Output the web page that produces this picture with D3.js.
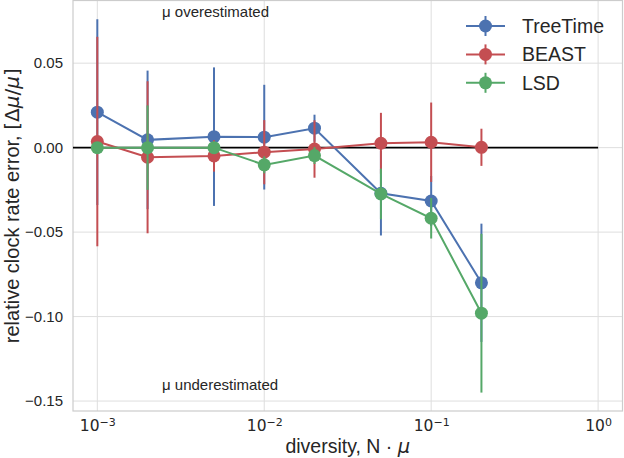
<!DOCTYPE html>
<html>
<head>
<meta charset="utf-8">
<script src="https://cdn.jsdelivr.net/npm/d3@7"></script>
<style>
  body { margin: 0; background: #fff; }
  text { font-family: "Liberation Sans", Arial, sans-serif; fill: #262626; }
</style>
</head>
<body>
<svg id="chart"></svg>
<script>
// diversity values (x axis, log)
var diversity = [0.001, 0.002, 0.005, 0.01, 0.02, 0.05, 0.1, 0.2];

// mean relative error and error bar half-length, one pair per method
var treetimeMean = [0.021, 0.0046, 0.0065, 0.0062, 0.0115, -0.027, -0.0316, -0.080];
var treetimeErr  = [0.055, 0.041, 0.041, 0.031, 0.008, 0.025, 0.0148, 0.035];
var beastMean = [0.0036, -0.0057, -0.0049, -0.0027, -0.0008, 0.0026, 0.0032, 0.0002];
var beastErr  = [0.062, 0.045, 0.0093, 0.019, 0.017, 0.018, 0.0235, 0.011];
var lsdMean = [0.0, 0.0, 0.0, -0.0102, -0.0047, -0.0274, -0.0418, -0.098];
var lsdErr  = [0.0, 0.025, 0.0, 0.005, 0.005, 0.015, 0.012, 0.047];

var methods = ["TreeTime", "BEAST", "LSD"];
var colors = ["#4C72B0", "#C44E52", "#55A868"];

var xTicks = [1e-3, 1e-2, 1e-1, 1];
var yTicks = [0.05, 0.0, -0.05, -0.10, -0.15];

var screen = {width: 624, height: 458};
var plot = {left: 73, right: 622.5, top: 0.5, bottom: 411};

var svg = d3.select("#chart")
    .attr("width", screen.width)
    .attr("height", screen.height);

var xScale = d3.scaleLog()
    .domain([7.15e-4, 1.40])
    .range([plot.left, plot.right]);

var yScale = d3.scaleLinear()
    .domain([-0.1559, 0.0871])
    .range([plot.bottom, plot.top]);

//grid lines
var grid = svg.append("g");
grid.selectAll(".gx")
    .data(xTicks)
    .enter()
    .append("line")
    .attr("x1", function(d) { return xScale(d); })
    .attr("x2", function(d) { return xScale(d); })
    .attr("y1", plot.top)
    .attr("y2", plot.bottom)
    .attr("stroke", "#dedede")
    .attr("stroke-width", 1);
grid.selectAll(".gy")
    .data(yTicks)
    .enter()
    .append("line")
    .attr("x1", plot.left)
    .attr("x2", plot.right)
    .attr("y1", function(d) { return yScale(d); })
    .attr("y2", function(d) { return yScale(d); })
    .attr("stroke", "#dedede")
    .attr("stroke-width", 1);

//frame
svg.append("rect")
    .attr("x", plot.left)
    .attr("y", plot.top)
    .attr("width", plot.right - plot.left)
    .attr("height", plot.bottom - plot.top)
    .attr("fill", "none")
    .attr("stroke", "#cccccc")
    .attr("stroke-width", 1.2);

//axes
var yAxis = d3.axisLeft(yScale)
    .tickValues(yTicks)
    .tickSize(0)
    .tickPadding(10)
    .tickFormat(d3.format(".2f"));
svg.append("g")
    .attr("transform", "translate(" + plot.left + ",0)")
    .call(yAxis)
    .call(function(g) { g.select(".domain").remove(); })
    .selectAll("text")
    .style("font-size", "15px")
    .attr("fill", "#262626");

var xAxis = d3.axisBottom(xScale)
    .tickValues(xTicks)
    .tickSize(0)
    .tickPadding(9)
    .tickFormat(function() { return ""; });
var xg = svg.append("g")
    .attr("transform", "translate(0," + plot.bottom + ")")
    .call(xAxis);
xg.select(".domain").remove();
xg.selectAll(".tick text")
    .attr("dy", "0.73em")
    .style("font-size", "15.5px")
    .style("font-family", "'DejaVu Sans'")
    .each(function(d) {
        var t = d3.select(this);
        var e = Math.round(Math.log10(d));
        t.append("tspan").text("10");
        t.append("tspan")
            .attr("dy", "-0.45em")
            .style("font-size", "11px")
            .text(e < 0 ? "\u2212" + (-e) : e);
    });

//zero line
svg.append("line")
    .attr("x1", plot.left)
    .attr("x2", xScale(1))
    .attr("y1", yScale(0))
    .attr("y2", yScale(0))
    .attr("stroke", "#000")
    .attr("stroke-width", 1.8);

//series
var series = [
    {name: methods[0], mean: treetimeMean, err: treetimeErr, color: colors[0]},
    {name: methods[1], mean: beastMean, err: beastErr, color: colors[1]},
    {name: methods[2], mean: lsdMean, err: lsdErr, color: colors[2]}
];

var line = d3.line()
    .x(function(d) { return xScale(d.x); })
    .y(function(d) { return yScale(d.y); });

series.forEach(function(s) {
    var pts = diversity.map(function(x, i) {
        return {x: x, y: s.mean[i], e: s.err[i]};
    });
    var g = svg.append("g");
    g.selectAll(".err")
        .data(pts.filter(function(p) { return p.e > 0; }))
        .enter()
        .append("line")
        .attr("x1", function(p) { return xScale(p.x); })
        .attr("x2", function(p) { return xScale(p.x); })
        .attr("y1", function(p) { return yScale(p.y + p.e); })
        .attr("y2", function(p) { return yScale(p.y - p.e); })
        .attr("stroke", s.color)
        .attr("stroke-width", 2);
    g.append("path")
        .datum(pts)
        .attr("d", line)
        .attr("fill", "none")
        .attr("stroke", s.color)
        .attr("stroke-width", 2);
    g.selectAll("circle")
        .data(pts)
        .enter()
        .append("circle")
        .attr("cx", function(p) { return xScale(p.x); })
        .attr("cy", function(p) { return yScale(p.y); })
        .attr("r", 6.5)
        .attr("fill", s.color);
});

//annotations
svg.append("text")
    .attr("x", xScale(2.44e-3))
    .attr("y", yScale(0.0775))
    .style("font-size", "15px")
    .text("\u03bc overestimated");
svg.append("text")
    .attr("x", xScale(2.44e-3))
    .attr("y", yScale(-0.1435))
    .style("font-size", "15px")
    .text("\u03bc underestimated");

//legend
var legend = svg.append("g");
series.forEach(function(s, i) {
    var y = 26 + i * 28.4;
    var lg = legend.append("g").attr("transform", "translate(0," + y + ")");
    lg.append("line")
        .attr("x1", 466).attr("x2", 505)
        .attr("y1", 0).attr("y2", 0)
        .attr("stroke", s.color).attr("stroke-width", 2);
    lg.append("line")
        .attr("x1", 485.5).attr("x2", 485.5)
        .attr("y1", -10).attr("y2", 10)
        .attr("stroke", s.color).attr("stroke-width", 2);
    lg.append("circle")
        .attr("cx", 485.5).attr("cy", 0)
        .attr("r", 6.5)
        .attr("fill", s.color);
    lg.append("text")
        .attr("x", 522)
        .attr("y", 7)
        .style("font-size", "19.5px")
        .text(s.name);
});

//axis labels
var xl = svg.append("text")
    .attr("x", (plot.left + plot.right) / 2)
    .attr("y", 453)
    .attr("text-anchor", "middle")
    .style("font-size", "19.5px");
xl.append("tspan").text("diversity, N \u00b7 ");
xl.append("tspan").style("font-style", "italic").style("font-family", "'DejaVu Sans'").text("\u03bc");

var yl = svg.append("text")
    .attr("transform", "translate(19," + ((plot.top + plot.bottom) / 2) + ") rotate(-90)")
    .attr("text-anchor", "middle")
    .style("font-size", "20px");
yl.append("tspan").text("relative clock rate error, ");
yl.append("tspan").style("font-family", "'DejaVu Sans'").text("[\u0394");
yl.append("tspan").style("font-style", "italic").style("font-family", "'DejaVu Sans'").text("\u03bc");
yl.append("tspan").style("font-family", "'DejaVu Sans'").text("/");
yl.append("tspan").style("font-style", "italic").style("font-family", "'DejaVu Sans'").text("\u03bc");
yl.append("tspan").style("font-family", "'DejaVu Sans'").text("]");
</script>
</body>
</html>
